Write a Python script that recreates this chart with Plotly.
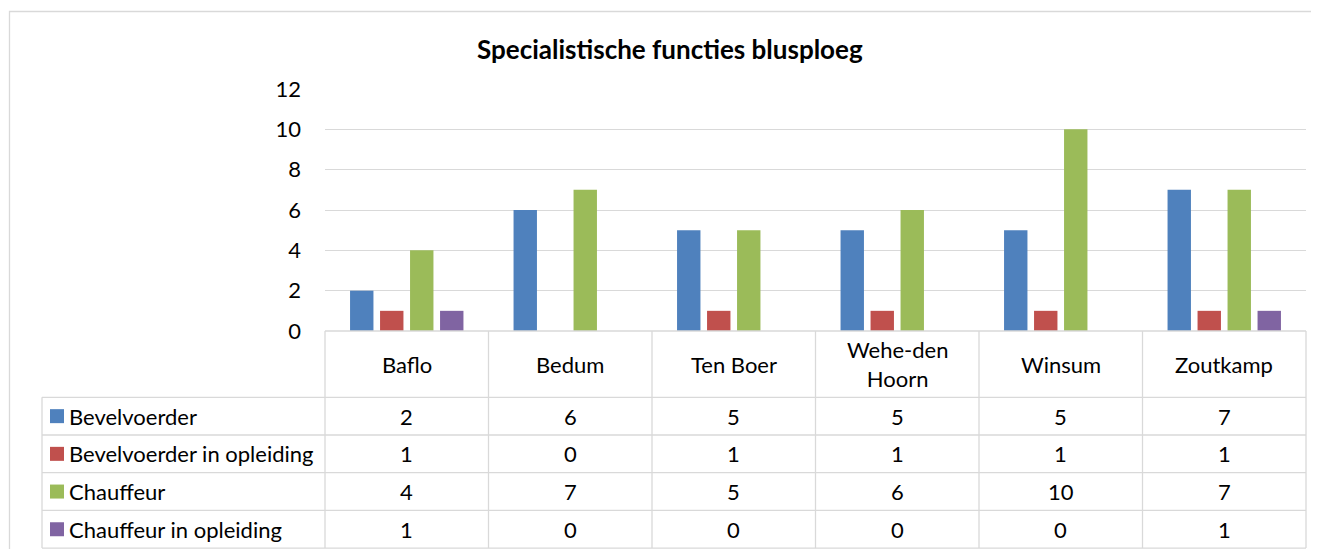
import plotly.graph_objects as go

categories = ["Baflo", "Bedum", "Ten Boer", "Wehe-den Hoorn", "Winsum", "Zoutkamp"]
series_names = ["Bevelvoerder", "Bevelvoerder in opleiding", "Chauffeur", "Chauffeur in opleiding"]
bevelvoerder = [2, 6, 5, 5, 5, 7]
bevelvoerder_opl = [1, 0, 1, 1, 1, 1]
chauffeur = [4, 7, 5, 6, 10, 7]
chauffeur_opl = [1, 0, 0, 0, 0, 1]
colors = ["#4F81BD", "#C0504D", "#9BBB59", "#8064A2"]
title_text = "Specialistische functies blusploeg"
y_ticks = [0, 2, 4, 6, 8, 10, 12]

series_values = [bevelvoerder, bevelvoerder_opl, chauffeur, chauffeur_opl]

OFF = 8  # default body margin of the html page
W, H = 1319 - 2 * OFF, 557 - 2 * OFF
# plot area in page px
L, R, T, B = 325, 1306, 89, 331
PW, PH = R - L, B - T
FONT = "Lato"
GRID = "#D9D9D9"


def px_x(px):
    return (px - L) / PW


def px_y(py):
    return (B - py) / PH


axis_px = 331
header_bottom = 397.3
row_h = 37.7

fig = go.Figure()
for name, vals, col in zip(series_names, series_values, colors):
    fig.add_trace(go.Bar(x=categories, y=vals, name=name, marker=dict(color=col, line=dict(width=0)),
                         showlegend=False))

shapes = []
annotations = []

row_lines = [header_bottom + k * row_h for k in range(5)]
for yl in row_lines:
    shapes.append(dict(type="line", xref="paper", yref="paper", x0=px_x(42), x1=1,
                       y0=px_y(yl), y1=px_y(yl), line=dict(color=GRID, width=1.3)))
shapes.append(dict(type="line", xref="paper", yref="paper", x0=0, x1=1,
                   y0=px_y(axis_px), y1=px_y(axis_px), line=dict(color=GRID, width=1.3)))
n = len(categories)
for k in range(n + 1):
    shapes.append(dict(type="line", xref="paper", yref="paper", x0=k / n, x1=k / n,
                       y0=px_y(row_lines[-1]), y1=px_y(axis_px), line=dict(color=GRID, width=1.3)))
shapes.append(dict(type="line", xref="paper", yref="paper", x0=px_x(42), x1=px_x(42),
                   y0=px_y(row_lines[-1]), y1=px_y(header_bottom), line=dict(color=GRID, width=1.3)))
shapes.append(dict(type="rect", xref="paper", yref="paper", x0=px_x(9.5), x1=px_x(1340),
                   y0=px_y(580), y1=px_y(11.5), line=dict(color=GRID, width=1.3)))

txt_font = dict(family=FONT, size=22, color="#000000")

header_mid = (axis_px + header_bottom) / 2
for c in categories:
    label = c.replace("Wehe-den ", "Wehe-den<br>")
    annotations.append(dict(x=c, xref="x", yref="paper", y=px_y(header_mid), text=label,
                            showarrow=False, font=txt_font, xanchor="center", yanchor="middle"))

for i, (name, vals, col) in enumerate(zip(series_names, series_values, colors)):
    yc = row_lines[i] + row_h / 2
    shapes.append(dict(type="rect", xref="paper", yref="paper", x0=px_x(50), x1=px_x(64),
                       y0=px_y(yc + 7), y1=px_y(yc - 7), fillcolor=col, line=dict(width=0)))
    annotations.append(dict(x=px_x(67), xref="paper", yref="paper", y=px_y(yc), text=name,
                            showarrow=False, font=txt_font, xanchor="left", yanchor="middle"))
    for c, v in zip(categories, vals):
        annotations.append(dict(x=c, xref="x", yref="paper", y=px_y(yc), text=str(v),
                                showarrow=False, font=txt_font, xanchor="center", yanchor="middle"))

annotations.append(dict(x=px_x(669.5), xref="paper", yref="paper", y=px_y(49), text="<b>" + title_text + "</b>",
                        showarrow=False, font=dict(family=FONT, size=26, color="#000000"),
                        xanchor="center", yanchor="middle"))

fig.update_layout(
    width=W, height=H, autosize=False,
    margin=dict(l=L - OFF, r=W - (R - OFF), t=T - OFF, b=H - (B - OFF), pad=0),
    paper_bgcolor="white", plot_bgcolor="white",
    barmode="group", bargap=0.266, bargroupgap=0.22,
    shapes=shapes, annotations=annotations,
    xaxis=dict(type="category", range=[-0.5, n - 0.5], showticklabels=False, showgrid=False,
               zeroline=False, showline=False, ticks=""),
    yaxis=dict(range=[0, 12], tickvals=y_ticks, showgrid=True,
               gridcolor=GRID, gridwidth=1.3, zeroline=False, showline=False, ticks="",
               ticklabelstandoff=23, tickfont=dict(family=FONT, size=22, color="#000000")),
    font=dict(family=FONT),
)

fig.write_html("out.html")
